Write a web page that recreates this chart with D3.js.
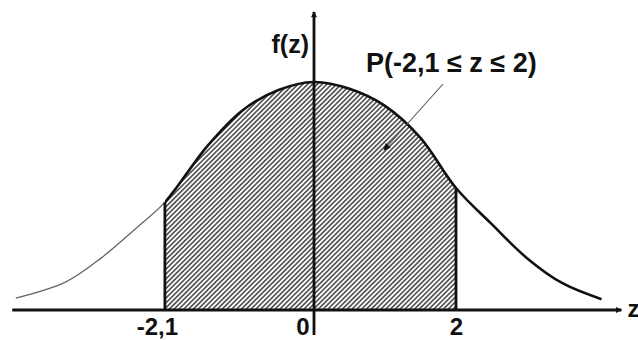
<!DOCTYPE html>
<html>
<head>
<meta charset="utf-8">
<script src="https://cdn.jsdelivr.net/npm/d3@7"></script>
<style>
  body { margin: 0; background: #fff; }
  text { font-family: "Liberation Sans", Arial, sans-serif; font-weight: bold; fill: #111; }
</style>
</head>
<body>
<svg width="638" height="340"></svg>
<script>
// curve (z, f(z))
var zValues = [-4.2, -3.5, -3, -2.5, -2.1, -1.5, -1, -0.5, 0, 0.5, 1, 1.5, 2, 2.5, 3, 3.5, 4.05];
var fValues = [0.021, 0.049, 0.091, 0.144, 0.189, 0.288, 0.351, 0.386, 0.400, 0.388, 0.358, 0.302, 0.214, 0.151, 0.091, 0.047, 0.019];
var tickValues = [-2.1, 0, 2];
var tickLabels = ["-2,1", "0", "2"];
var bounds = [-2.1, 2];
var areaLabel = "P(-2,1 \u2264 z \u2264 2)";

var data = zValues.map(function(z, i) { return {z: z, f: fValues[i]}; });

var svg = d3.select("svg");

var x = d3.scaleLinear().domain([-4, 4]).range([30, 598]),
    y = d3.scaleLinear().domain([0, 0.4]).range([310, 82]);

var defs = svg.append("defs");

defs.append("pattern")
    .attr("id", "hatch")
    .attr("patternUnits", "userSpaceOnUse")
    .attr("width", 3.4)
    .attr("height", 3.4)
    .attr("patternTransform", "rotate(45)")
  .append("line")
    .attr("x1", 1.7).attr("y1", 0)
    .attr("x2", 1.7).attr("y2", 3.4)
    .attr("stroke", "#333")
    .attr("stroke-width", 1.4);

defs.append("clipPath").attr("id", "clipIn")
  .append("rect")
    .attr("x", x(bounds[0])).attr("y", 0)
    .attr("width", x(bounds[1]) - x(bounds[0])).attr("height", 340);
defs.append("clipPath").attr("id", "clipLeft")
  .append("rect")
    .attr("x", 0).attr("y", 0)
    .attr("width", x(bounds[0])).attr("height", 340);
defs.append("clipPath").attr("id", "clipRight")
  .append("rect")
    .attr("x", x(bounds[0])).attr("y", 0)
    .attr("width", 638 - x(bounds[0])).attr("height", 340);

function arrow(id, w, h) {
  defs.append("marker")
      .attr("id", id)
      .attr("viewBox", "0 0 10 10")
      .attr("refX", 9).attr("refY", 5)
      .attr("markerUnits", "userSpaceOnUse")
      .attr("markerWidth", w).attr("markerHeight", h)
      .attr("orient", "auto")
    .append("path")
      .attr("d", "M0,0L10,5L0,10Z")
      .attr("fill", "#111");
}
arrow("axisArrow", 10, 6);
arrow("leadArrow", 11, 7);

var area = d3.area()
    .x(function(d) { return x(d.z); })
    .y0(y(0))
    .y1(function(d) { return y(d.f); })
    .curve(d3.curveCatmullRom);

var line = d3.line()
    .x(function(d) { return x(d.z); })
    .y(function(d) { return y(d.f); })
    .curve(d3.curveCatmullRom);

// hatched probability area
svg.append("path")
    .datum(data)
    .attr("d", area)
    .attr("fill", "url(#hatch)")
    .attr("clip-path", "url(#clipIn)");

// curve: faint left tail, heavy rest
svg.append("path")
    .datum(data)
    .attr("d", line)
    .attr("fill", "none")
    .attr("stroke", "#666")
    .attr("stroke-width", 1.3)
    .attr("clip-path", "url(#clipLeft)");

svg.append("path")
    .datum(data)
    .attr("d", line)
    .attr("fill", "none")
    .attr("stroke", "#111")
    .attr("stroke-width", 2.6)
    .attr("clip-path", "url(#clipRight)");

// bound lines
svg.selectAll("line.bound")
    .data(bounds)
    .enter()
    .append("line")
    .attr("class", "bound")
    .attr("x1", function(d) { return x(d); })
    .attr("x2", function(d) { return x(d); })
    .attr("y1", y(0))
    .attr("y2", function(d) { return y(fValues[zValues.indexOf(d)]); })
    .attr("stroke", "#111")
    .attr("stroke-width", 2.8);

// x axis
svg.append("line")
    .attr("x1", x(-4.25)).attr("x2", x(4.33))
    .attr("y1", y(0)).attr("y2", y(0))
    .attr("stroke", "#111")
    .attr("stroke-width", 2.8)
    .attr("marker-end", "url(#axisArrow)");

var xAxis = svg.append("g")
    .attr("transform", "translate(0," + y(0) + ")")
    .call(d3.axisBottom(x)
      .tickValues(tickValues)
      .tickSize(0)
      .tickPadding(8)
      .tickFormat(function(d, i) { return tickLabels[i]; }));
xAxis.select(".domain").remove();
xAxis.selectAll(".tick text")
    .attr("fill", "#111")
    .style("font-size", "24px")
    .attr("font-family", null)
    .attr("text-anchor", function(d) { return d === 0 ? "end" : "middle"; })
    .attr("dx", function(d) { return d === 0 ? -5 : (d < 0 ? -8 : 0); });

svg.append("text")
    .attr("x", x(4.33) + 6)
    .attr("y", y(0) + 7)
    .style("font-size", "24px")
    .text("z");

// y axis
svg.append("line")
    .attr("x1", x(0)).attr("x2", x(0))
    .attr("y1", y(-0.044)).attr("y2", y(0.523))
    .attr("stroke", "#111")
    .attr("stroke-width", 2.8)
    .attr("marker-end", "url(#axisArrow)");

svg.append("text")
    .attr("x", x(0) - 5)
    .attr("y", 53)
    .attr("text-anchor", "end")
    .style("font-size", "25px")
    .text("f(z)");

// area annotation
svg.append("text")
    .attr("x", 366)
    .attr("y", 72)
    .style("font-size", "27px")
    .text(areaLabel);

svg.append("line")
    .attr("x1", 443).attr("y1", 84)
    .attr("x2", 384).attr("y2", 150)
    .attr("stroke", "#555")
    .attr("stroke-width", 1.1)
    .attr("marker-end", "url(#leadArrow)");
</script>
</body>
</html>
